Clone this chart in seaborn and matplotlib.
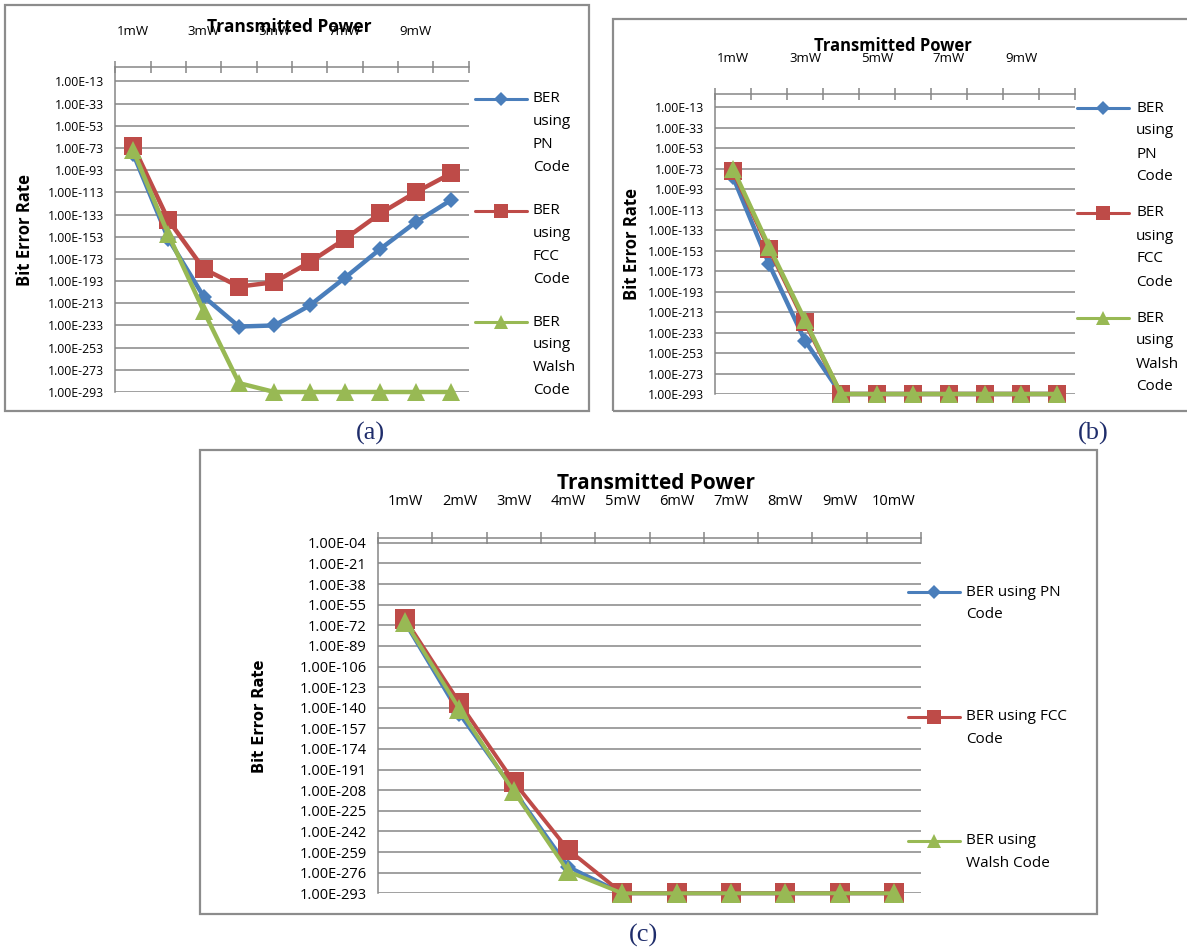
import numpy as np
import pandas as pd
import matplotlib
matplotlib.use("Agg")
import matplotlib.pyplot as plt
import seaborn as sns
from matplotlib.lines import Line2D
from matplotlib.patches import Rectangle
from matplotlib.ticker import FixedLocator, FuncFormatter, NullLocator
from matplotlib import font_manager

sns.set_style("white")
plt.rcParams['font.family'] = ['Open Sans', 'DejaVu Sans']
plt.rcParams['text.color'] = 'black'
plt.rcParams['xtick.color'] = 'black'
plt.rcParams['ytick.color'] = 'black'

def has_font(name):
    try:
        font_manager.findfont(name, fallback_to_default=False)
        return True
    except Exception:
        return False

NARROW = 'Liberation Sans Narrow' if has_font('Liberation Sans Narrow') else 'Open Sans'

# ---------------- data ----------------
power_mw = [1, 2, 3, 4, 5, 6, 7, 8, 9, 10]
xlabels_ab = ["1mW", "", "3mW", "", "5mW", "", "7mW", "", "9mW", ""]
xlabels_c = ["1mW", "2mW", "3mW", "4mW", "5mW", "6mW", "7mW", "8mW", "9mW", "10mW"]
series_names = ["BER using PN Code", "BER using FCC Code", "BER using Walsh Code"]

# panel (a)
pn_a = [1e-78, 1e-155, 1e-207, 1e-234, 1e-233, 1e-215, 1e-190, 1e-164, 1e-140, 1e-120]
fcc_a = [1e-71, 1e-138, 1e-182, 1e-198, 1e-194, 1e-176, 1e-155, 1e-132, 1e-113, 1e-96]
walsh_a = [1e-75, 1e-151, 1e-220, 1e-285, 1e-293, 1e-293, 1e-293, 1e-293, 1e-293, 1e-293]

# panel (b)
pn_b = [1e-81, 1e-166, 1e-241, 1e-293, 1e-293, 1e-293, 1e-293, 1e-293, 1e-293, 1e-293]
fcc_b = [1e-75, 1e-151, 1e-223, 1e-293, 1e-293, 1e-293, 1e-293, 1e-293, 1e-293, 1e-293]
walsh_b = [1e-73, 1e-149, 1e-221, 1e-293, 1e-293, 1e-293, 1e-293, 1e-293, 1e-293, 1e-293]

# panel (c)
pn_c = [1e-70, 1e-145, 1e-208, 1e-271, 1e-293, 1e-293, 1e-293, 1e-293, 1e-293, 1e-293]
fcc_c = [1e-67, 1e-136, 1e-201, 1e-257, 1e-293, 1e-293, 1e-293, 1e-293, 1e-293, 1e-293]
walsh_c = [1e-69, 1e-141, 1e-209, 1e-275, 1e-293, 1e-293, 1e-293, 1e-293, 1e-293, 1e-293]

yticks_ab = [1e-13, 1e-33, 1e-53, 1e-73, 1e-93, 1e-113, 1e-133, 1e-153, 1e-173,
             1e-193, 1e-213, 1e-233, 1e-253, 1e-273, 1e-293]
yticks_c = [1e-4, 1e-21, 1e-38, 1e-55, 1e-72, 1e-89, 1e-106, 1e-123, 1e-140, 1e-157,
            1e-174, 1e-191, 1e-208, 1e-225, 1e-242, 1e-259, 1e-276, 1e-293]

colors = {"BER using PN Code": "#4A7EBB", "BER using FCC Code": "#BE4B48",
          "BER using Walsh Code": "#98B954"}
markers = {"BER using PN Code": "D", "BER using FCC Code": "s", "BER using Walsh Code": "^"}

GRID = "#868686"
W, H = 1187, 948


def long_df(pn, fcc, walsh):
    frames = []
    for name, vals in zip(series_names, [pn, fcc, walsh]):
        frames.append(pd.DataFrame({"power": power_mw, "ber": vals, "series": name}))
    return pd.concat(frames, ignore_index=True)


def rect(l, t, r, b):
    return [l / W, 1 - b / H, (r - l) / W, (b - t) / H]


def fx(x):
    return x / W


def fy(y):
    return 1 - y / H


fig = plt.figure(figsize=(W / 100, H / 100), dpi=100)

# panel frames
for (l, t, r, b) in [(5, 5, 589, 411), (613, 19, 1190, 411), (200, 450, 1097, 914)]:
    fig.patches.append(Rectangle((fx(l), fy(b)), (r - l) / W, (b - t) / H,
                                 transform=fig.transFigure, fill=False,
                                 edgecolor="#8C8C8C", linewidth=1.6, zorder=0))


def draw_panel(box, df, yticks, xlabels, sizes, lw, tick_font, ytick_size, xtick_size):
    ax = fig.add_axes(rect(*box))
    sns.lineplot(data=df, x="power", y="ber", hue="series", style="series",
                 hue_order=series_names, style_order=series_names,
                 palette=colors, markers=markers, dashes=False, legend=False,
                 linewidth=lw, markeredgewidth=0, sort=False, ax=ax)
    for line, ms in zip(ax.lines, sizes):
        line.set_markersize(ms)
        line.set_solid_joinstyle("round")
    ax.set_yscale("log")
    ax.set_ylim(1e-293, 1e0)
    ax.set_xlim(0.5, 10.5)
    ax.yaxis.set_major_locator(FixedLocator(yticks))
    ax.yaxis.set_minor_locator(NullLocator())
    ax.yaxis.set_major_formatter(FuncFormatter(lambda v, p: f"{v:.2E}"))
    ax.grid(axis="y", color=GRID, linewidth=1.1)
    ax.grid(axis="x", visible=False)
    ax.xaxis.tick_top()
    ax.set_xticks(power_mw)
    ax.set_xticklabels(xlabels, fontfamily=tick_font, fontsize=xtick_size)
    ax.set_xticks([p + 0.5 for p in [0] + power_mw], minor=True)
    ax.tick_params(axis="x", which="major", length=0, pad=21, top=True, bottom=False,
                   labelcolor="black")
    ax.tick_params(axis="x", which="minor", length=9, direction="inout", color=GRID,
                   width=1.1, top=True, bottom=False)
    ax.tick_params(axis="y", which="major", length=5, color=GRID, width=1.1,
                   labelsize=ytick_size, pad=3, labelcolor="black")
    for lab in ax.get_yticklabels():
        lab.set_fontfamily(tick_font)
    for s in ["right", "bottom"]:
        ax.spines[s].set_visible(False)
    for s in ["top", "left"]:
        ax.spines[s].set_color(GRID)
        ax.spines[s].set_linewidth(1.1)
    ax.set_xlabel("")
    ax.set_ylabel("")
    ax.set_facecolor("none")
    for line in ax.lines:
        line.set_clip_on(False)
    return ax


def draw_legend(x0, x1, xt, ys, label_lines, fontsize, sizes, lw, dy, family):
    for name, y, lines, ms in zip(series_names, ys, label_lines, sizes):
        fig.add_artist(Line2D([fx(x0), fx(x1)], [fy(y), fy(y)], transform=fig.transFigure,
                              color=colors[name], linewidth=lw))
        fig.add_artist(Line2D([fx((x0 + x1) / 2)], [fy(y)], transform=fig.transFigure,
                              color=colors[name], marker=markers[name], markersize=ms,
                              markeredgewidth=0, linestyle="none"))
        for i, txt in enumerate(lines):
            fig.text(fx(xt), fy(y + i * dy), txt, fontsize=fontsize, va="center",
                     ha="left", color="black", fontfamily=family)


# ---- panel (a)
ax_a = draw_panel((115.4, 67, 468.6, 392), long_df(pn_a, fcc_a, walsh_a), yticks_ab,
                  xlabels_ab, [8.2, 13, 13], 3.2, "Open Sans", 8.8, 9.5)
fig.text(fx(289), fy(27), "Transmitted Power", fontsize=12.5, fontweight="bold",
         ha="center", va="center")
fig.text(fx(25), fy(230), "Bit Error Rate", fontsize=12, fontweight="bold",
         rotation=90, ha="center", va="center")
ab_lines = [["BER", "using", "PN", "Code"], ["BER", "using", "FCC", "Code"],
            ["BER", "using", "Walsh", "Code"]]
draw_legend(475, 527, 533, [99, 211, 322], ab_lines, 11, [7, 9.5, 9.5], 2.2, 22.7, "Open Sans")

# ---- panel (b)
ax_b = draw_panel((715, 94, 1075, 394), long_df(pn_b, fcc_b, walsh_b), yticks_ab,
                  xlabels_ab, [8.2, 13.5, 13.5], 3.2, "Open Sans", 8.8, 9.5)
fig.text(fx(893), fy(46), "Transmitted Power", fontsize=12, fontweight="bold",
         ha="center", va="center")
fig.text(fx(632), fy(244), "Bit Error Rate", fontsize=12, fontweight="bold",
         rotation=90, ha="center", va="center")
draw_legend(1077, 1129, 1136, [108, 213, 318], ab_lines, 11, [7, 9.5, 9.5], 2.2, 23, "Open Sans")

# ---- panel (c)
ax_c = draw_panel((378, 538, 921, 893.3), long_df(pn_c, fcc_c, walsh_c), yticks_c,
                  xlabels_c, [8.5, 14, 14], 2.8, NARROW, 10.5, 10.5)
fig.text(fx(656), fy(483), "Transmitted Power", fontsize=15, fontweight="bold",
         ha="center", va="center", fontfamily=NARROW)
fig.text(fx(260), fy(716), "Bit Error Rate", fontsize=10.5, fontweight="bold",
         rotation=90, ha="center", va="center", fontfamily="DejaVu Sans")
c_lines = [["BER using PN", "Code"], ["BER using FCC", "Code"], ["BER using", "Walsh Code"]]
draw_legend(908, 960, 966, [592, 717, 841], c_lines, 11, [7, 9.5, 9.5], 2.2, 22.5, "Open Sans")

# captions
for x, y, t in [(370, 433, "(a)"), (1093, 433, "(b)"), (643, 935, "(c)")]:
    fig.text(fx(x), fy(y), t, fontsize=19, ha="center", va="center",
             fontfamily="Liberation Serif", color="#1F2D6B")

fig.savefig("out.png", dpi=100, facecolor="white")
